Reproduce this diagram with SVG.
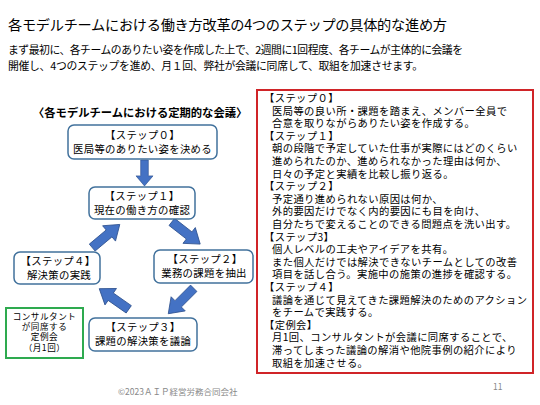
<svg xmlns="http://www.w3.org/2000/svg" width="540" height="405" viewBox="0 0 540 405">
<defs>
<style>
text{font-family:"Noto Sans CJK JP","Noto Sans CJK SC",sans-serif;fill:#000}
.title{font-size:14.2px}
.sub{font-size:10.8px}
.head{font-size:11.3px;font-weight:bold}
.box{fill:#fff;stroke:#41719C;stroke-width:1.5}
.bt{font-size:10.4px;text-anchor:middle;letter-spacing:0.3px}
.gt{font-size:8.6px;text-anchor:middle;letter-spacing:0.5px}
.arr{fill:#4472C4;stroke:#2F528F;stroke-width:0.8}
.rt{font-size:10.3px;letter-spacing:0.4px}
.foot{font-size:8.5px;fill:#888}
</style>
<path id="ar" d="M-18,-4.5 L4,-4.5 L4,-10 L18,0 L4,10 L4,4.5 L-18,4.5 Z"/>
</defs>
<rect width="540" height="405" fill="#fff"/>
<text class="title" x="8" y="30" textLength="439" lengthAdjust="spacing">各モデルチームにおける働き方改革の4つのステップの具体的な進め方</text>
<text class="sub" x="8" y="54" textLength="455" lengthAdjust="spacing">まず最初に、各チームのありたい姿を作成した上で、2週間に1回程度、各チームが主体的に会議を</text>
<text class="sub" x="8" y="70" textLength="415" lengthAdjust="spacing">開催し、4つのステップを進め、月１回、弊社が会議に同席して、取組を加速させます。</text>
<text class="head" x="33" y="117">〈各モデルチームにおける定期的な会議〉</text>

<g id="connectors">
<use href="#ar" class="arr" transform="translate(144.5,173) rotate(90) scale(0.72,0.85)"/>
<use href="#ar" class="arr" transform="translate(106,236) rotate(-40)"/>
<use href="#ar" class="arr" transform="translate(186,233) rotate(38)"/>
<use href="#ar" class="arr" transform="translate(181,301) rotate(135)"/>
<use href="#ar" class="arr" transform="translate(114,299) rotate(215)"/>
</g>

<g id="step0">
<rect class="box" x="68" y="125" width="149" height="34" rx="6"/>
<text class="bt" x="142.5" y="139">【ステップ０】</text>
<text class="bt" x="142.5" y="153">医局等のありたい姿を決める</text>
</g>
<g id="step1">
<rect class="box" x="89" y="187" width="106" height="32" rx="6"/>
<text class="bt" x="142" y="200">【ステップ１】</text>
<text class="bt" x="142" y="214">現在の働き方の確認</text>
</g>
<g id="step2">
<rect class="box" x="154" y="250" width="99" height="33" rx="6"/>
<text class="bt" x="205" y="263">【ステップ２】</text>
<text class="bt" x="204" y="277">業務の課題を抽出</text>
</g>
<g id="step4">
<rect class="box" x="14" y="252" width="86" height="32" rx="6"/>
<text class="bt" x="58" y="265">【ステップ４】</text>
<text class="bt" x="59" y="279">解決策の実践</text>
</g>
<g id="step3">
<rect class="box" x="89" y="318" width="108" height="33" rx="6"/>
<text class="bt" x="143" y="331">【ステップ３】</text>
<text class="bt" x="143" y="345">課題の解決策を議論</text>
</g>
<g id="consult">
<rect x="6" y="308" width="77" height="50" fill="#fff" stroke="#2EAA4F" stroke-width="2"/>
<text class="gt" x="44.5" y="320">コンサルタント<tspan x="44.5" dy="10">が同席する</tspan><tspan x="44.5" dy="10">定例会</tspan><tspan x="44.5" dy="11">（月1回）</tspan></text>
</g>

<g id="detail">
<rect x="257" y="90" width="276" height="283" fill="#fff" stroke="#D02428" stroke-width="2"/>
<text class="rt" x="264" y="102">【ステップ０】<tspan x="272" dy="12.6">医局等の良い所・課題を踏まえ、メンバー全員で</tspan><tspan x="272" dy="12.6">合意を取りながらありたい姿を作成する。</tspan><tspan x="264" dy="12.6">【ステップ１】</tspan><tspan x="272" dy="12.6">朝の段階で予定していた仕事が実際にはどのくらい</tspan><tspan x="272" dy="12.6">進められたのか、進められなかった理由は何か、</tspan><tspan x="272" dy="12.6">日々の予定と実績を比較し振り返る。</tspan><tspan x="264" dy="12.6">【ステップ２】</tspan><tspan x="272" dy="12.6">予定通り進められない原因は何か、</tspan><tspan x="272" dy="12.6">外的要因だけでなく内的要因にも目を向け、</tspan><tspan x="272" dy="12.6">自分たちで変えることのできる問題点を洗い出す。</tspan><tspan x="264" dy="12.6">【ステップ3】</tspan><tspan x="272" dy="12.6">個人レベルの工夫やアイデアを共有。</tspan><tspan x="272" dy="12.6">また個人だけでは解決できないチームとしての改善</tspan><tspan x="272" dy="12.6">項目を話し合う。実施中の施策の進捗を確認する。</tspan><tspan x="264" dy="12.6">【ステップ４】</tspan><tspan x="272" dy="12.6">議論を通じて見えてきた課題解決のためのアクション</tspan><tspan x="272" dy="12.6">をチームで実践する。</tspan><tspan x="264" dy="12.6">【定例会】</tspan><tspan x="272" dy="12.6">月1回、コンサルタントが会議に同席することで、</tspan><tspan x="272" dy="12.6">滞ってしまった議論の解消や他院事例の紹介により</tspan><tspan x="272" dy="12.6">取組を加速させる。</tspan></text>
</g>

<text class="foot" x="118" y="395">©2023ＡＩＰ経営労務合同会社</text>
<text class="foot" x="493" y="390">11</text>
</svg>
